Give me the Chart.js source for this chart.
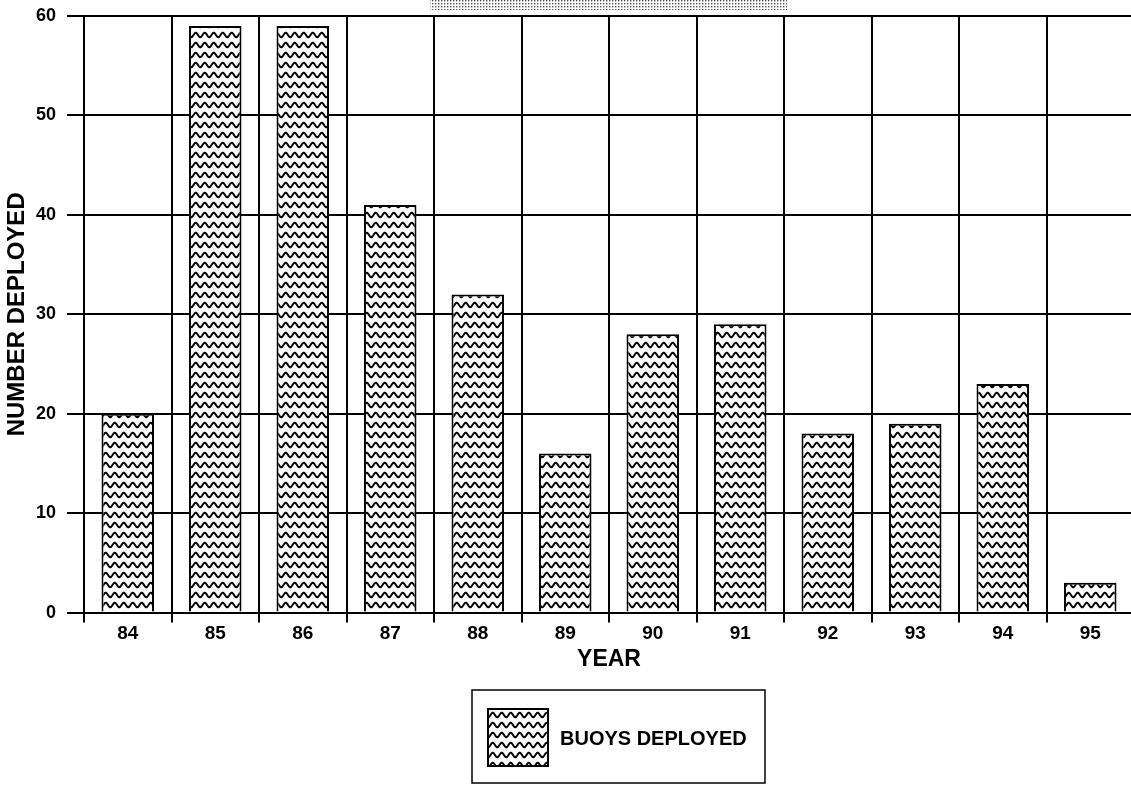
<!DOCTYPE html>
<html>
<head>
<meta charset="utf-8">
<script src="https://cdn.jsdelivr.net/npm/chart.js@4.4.1/dist/chart.umd.min.js"></script>
<style>
  html, body { margin: 0; padding: 0; background: #fff; overflow: hidden; }
  #wrap { width: 1136px; height: 785px; }
</style>
</head>
<body>
<div id="wrap"><canvas id="c" width="1136" height="785"></canvas></div>
<script>
// Buoy deployments per year
const years = ['84', '85', '86', '87', '88', '89', '90', '91', '92', '93', '94', '95'];
const buoysDeployed = [20, 59, 59, 41, 32, 16, 28, 29, 18, 19, 23, 3];
const yTickValues = [0, 10, 20, 30, 40, 50, 60];
const seriesLabel = 'BUOYS DEPLOYED';
const xAxisTitle = 'YEAR';
const yAxisTitle = 'NUMBER DEPLOYED';

const FONT = "'Liberation Sans', Arial, Helvetica, sans-serif";

// Wavy hatch used to fill the bars and the legend swatch
function makeWavePattern(ctx) {
  const t = document.createElement('canvas');
  t.width = 9; t.height = 10;
  const g = t.getContext('2d');
  g.fillStyle = '#fff';
  g.fillRect(0, 0, 9, 10);
  g.strokeStyle = '#000';
  g.lineWidth = 2;
  g.beginPath();
  for (let x = -1; x <= 10; x += 0.5) {
    const y = 5 + 2.3 * Math.sin((2 * Math.PI * x) / 9);
    if (x === -1) g.moveTo(x, y); else g.lineTo(x, y);
  }
  g.stroke();
  return ctx.createPattern(t, 'repeat');
}

// Fine dotted screen used for the shaded banner along the top edge
function makeDotPattern(ctx) {
  const t = document.createElement('canvas');
  t.width = 3; t.height = 3;
  const g = t.getContext('2d');
  g.fillStyle = '#fff';
  g.fillRect(0, 0, 3, 3);
  g.fillStyle = '#555';
  g.fillRect(0, 0, 1.4, 1.4);
  return ctx.createPattern(t, 'repeat');
}

const canvas = document.getElementById('c');
const ctx = canvas.getContext('2d');
const wave = makeWavePattern(ctx);
const dots = makeDotPattern(ctx);

const bannerPlugin = {
  id: 'banner',
  beforeDraw(chart) {
    const c = chart.ctx;
    c.save();
    c.fillStyle = dots;
    c.fillRect(430, 0, 357, 10);
    c.restore();
  }
};

// Boxed legend below the axis title
const boxedLegend = {
  id: 'boxedLegend',
  afterDraw(chart) {
    const c = chart.ctx;
    const ds = chart.data.datasets[0];
    c.save();
    c.strokeStyle = '#000';
    c.lineWidth = 1.5;
    c.strokeRect(472, 690, 293, 93);
    c.fillStyle = ds.backgroundColor;
    c.fillRect(488, 709, 60, 57);
    c.lineWidth = 2;
    c.strokeRect(488, 709, 60, 57);
    c.fillStyle = '#000';
    c.font = 'bold 20px ' + FONT;
    c.textAlign = 'left';
    c.textBaseline = 'middle';
    c.fillText(ds.label, 560, 739);
    c.restore();
  }
};

new Chart(ctx, {
  type: 'bar',
  data: {
    labels: years,
    datasets: [{
      label: seriesLabel,
      data: buoysDeployed,
      backgroundColor: wave,
      borderColor: '#000',
      borderWidth: 2,
      barPercentage: 0.6,
      categoryPercentage: 1.0
    }]
  },
  options: {
    responsive: false,
    animation: false,
    devicePixelRatio: 1,
    layout: { padding: { top: 16, right: 2, bottom: 112, left: 0 } },
    plugins: {
      legend: { display: false },
      tooltip: { enabled: false },
      title: { display: false }
    },
    scales: {
      x: {
        offset: true,
        grid: { color: '#000', lineWidth: 2, offset: true, tickLength: 10, drawTicks: true },
        border: { color: '#000', width: 2 },
        ticks: { color: '#000', padding: 0, font: { family: FONT, weight: 'bold', size: 19 } },
        title: {
          display: true, text: xAxisTitle, color: '#000',
          font: { family: FONT, weight: 'bold', size: 23 },
          padding: { top: 0, bottom: 0 }
        }
      },
      y: {
        min: 0,
        max: 60,
        afterBuildTicks(scale) { scale.ticks = yTickValues.map(v => ({ value: v })); },
        afterFit(scale) {
          scale.width = 84;
          scale.paddingTop = 0;
          scale.paddingBottom = 0;
        },
        grid: { color: '#000', lineWidth: 2, tickLength: 17, drawTicks: true },
        border: { color: '#000', width: 2 },
        ticks: { color: '#000', padding: 11, font: { family: FONT, weight: 'bold', size: 18 } },
        title: {
          display: true, text: yAxisTitle, color: '#000',
          font: { family: FONT, weight: 'bold', size: 24 },
          padding: { top: 3, bottom: 0 }
        }
      }
    }
  },
  plugins: [bannerPlugin, boxedLegend]
});
</script>
</body>
</html>
